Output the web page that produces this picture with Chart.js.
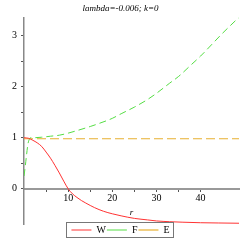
<!DOCTYPE html>
<html><head><meta charset="utf-8">
<script src="https://cdn.jsdelivr.net/npm/chart.js@4/dist/chart.umd.min.js"></script>
<style>html,body{margin:0;padding:0;background:#fff}#wrap{width:245px;height:245px}</style>
</head><body><div id="wrap"><canvas id="c" width="245" height="245"></canvas></div>
<script>
const chartTitle = 'lambda=-0.006; k=0';
const seriesNames = ['W', 'F', 'E'];
const rW = [0, 1, 2, 3, 4, 5, 6, 7, 8, 9, 10, 11, 12, 13, 14, 16, 18, 20, 22, 25, 28, 30, 33, 36, 40, 44, 48.7];
const valW = [1, 0.99, 0.95, 0.9, 0.83, 0.72, 0.6, 0.46, 0.31, 0.15, 0.0, -0.1, -0.17, -0.23, -0.28, -0.37, -0.44, -0.49, -0.53, -0.58, -0.61, -0.63, -0.645, -0.655, -0.665, -0.67, -0.675];
const rF = [0, 0.3, 0.6, 0.9, 1.2, 1.5, 2, 4, 6, 8, 10, 12, 15, 17, 20, 22, 25, 28, 30, 33, 35, 38, 40, 43, 45, 48.7];
const valF = [0.25, 0.45, 0.68, 0.88, 0.97, 1.0, 1.0, 1.01, 1.03, 1.05, 1.09, 1.14, 1.22, 1.28, 1.38, 1.47, 1.6, 1.75, 1.87, 2.07, 2.2, 2.44, 2.6, 2.87, 3.05, 3.36];
const rE = [0, 48.7];
const valE = [0.98, 0.98];
const xTickLabels = [10, 20, 30, 40];
const yTickLabels = [0, 1, 2, 3];

const pts = (xs, ys) => xs.map((x, i) => ({x, y: ys[i]}));
const serif = "'Liberation Serif', 'Times New Roman', serif";

const legendBox = {
  id: 'legendBox',
  afterDraw(chart) {
    const hb = chart.legend.legendHitBoxes;
    if (!hb || !hb.length) return;
    let l = Infinity, r = -Infinity, t = Infinity, b = -Infinity;
    hb.forEach(h => { l = Math.min(l, h.left); r = Math.max(r, h.left + h.width); t = Math.min(t, h.top); b = Math.max(b, h.top + h.height); });
    const ctx = chart.ctx;
    ctx.save();
    ctx.strokeStyle = '#777';
    ctx.lineWidth = 1;
    ctx.strokeRect(Math.round(l) - 4.5, Math.round(t) - 2.5, Math.round(r - l) + 9, Math.round(b - t) + 5);
    ctx.restore();
  }
};

new Chart(document.getElementById('c'), {
  type: 'line',
  data: {
    datasets: [
      {label: seriesNames[0], data: pts(rW, valW), borderColor: '#ff3333', backgroundColor: '#ff3333', borderWidth: 1, pointRadius: 0, cubicInterpolationMode: 'monotone'},
      {label: seriesNames[1], data: pts(rF, valF), borderColor: '#55dd44', backgroundColor: '#55dd44', borderWidth: 1, borderDash: [7, 4], pointRadius: 0, cubicInterpolationMode: 'monotone'},
      {label: seriesNames[2], data: pts(rE, valE), borderColor: '#e8b030', backgroundColor: '#e8b030', borderWidth: 1.2, borderDash: [9, 4], pointRadius: 0}
    ]
  },
  options: {
    responsive: false,
    animation: false,
    devicePixelRatio: 1,
    layout: {padding: {left: 2, right: 6, top: 0, bottom: 0}},
    plugins: {
      tooltip: {enabled: false},
      title: {display: true, text: chartTitle, color: '#000', font: {family: serif, size: 9, style: 'italic', weight: 'normal'}, padding: {top: 3, bottom: 4}},
      legend: {
        position: 'bottom',
        labels: {
          usePointStyle: true, pointStyle: 'line', pointStyleWidth: 20, boxHeight: 6,
          color: '#000', font: {family: serif, size: 10}, padding: 1
        }
      }
    },
    scales: {
      x: {
        type: 'linear', position: {y: 0}, min: 0, max: 48.7,
        border: {display: true, color: '#999', width: 2},
        grid: {display: true, drawOnChartArea: false, drawTicks: true, tickLength: 2, color: '#555'},
        ticks: {stepSize: 5, color: '#000', font: {family: serif, size: 10}, padding: 2, maxRotation: 0, autoSkip: false,
          callback: v => xTickLabels.includes(v) ? String(v) : ''},
        afterBuildTicks: s => { s.ticks = s.ticks.filter(t => Math.abs(t.value / 5 - Math.round(t.value / 5)) < 1e-6 && t.value > 0); },
        title: {display: true, text: 'r', color: '#000', font: {family: serif, size: 9, style: 'italic'}, padding: 0}
      },
      y: {
        type: 'linear', position: 'left', min: -0.69, max: 3.35,
        border: {display: true, color: '#888', width: 1.5},
        grid: {display: true, drawOnChartArea: false, drawTicks: true, tickLength: 3, color: '#555'},
        ticks: {stepSize: 0.5, color: '#000', font: {family: serif, size: 10}, padding: 4, autoSkip: false,
          callback: v => yTickLabels.includes(v) ? String(v) : ''},
        afterBuildTicks: s => { s.ticks = s.ticks.filter(t => Math.abs(t.value * 2 - Math.round(t.value * 2)) < 1e-6); },
        afterFit: s => { s.width = 22; }
      }
    }
  },
  plugins: [legendBox]
});
</script>
</body></html>
